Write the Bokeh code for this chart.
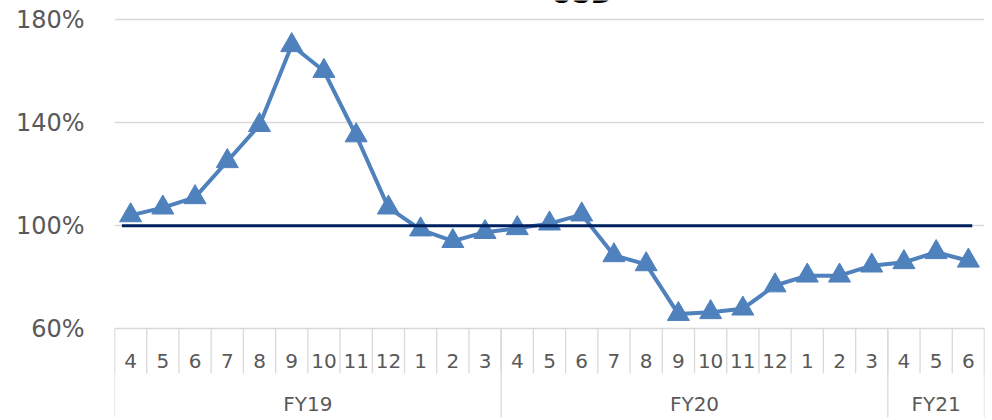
from bokeh.plotting import figure
from bokeh.models import FactorRange, Range1d, FixedTicker, PrintfTickFormatter, ColumnDataSource
from bokeh.core.properties import value
from bokeh.embed import file_html
from bokeh.resources import INLINE

# ---------------- data ----------------
title_text = "USD"
fiscal_years = ["FY19", "FY20", "FY21"]
months_fy19 = ["4", "5", "6", "7", "8", "9", "10", "11", "12", "1", "2", "3"]
months_fy20 = ["4", "5", "6", "7", "8", "9", "10", "11", "12", "1", "2", "3"]
months_fy21 = ["4", "5", "6"]
usd_fy19 = [104, 107, 111, 125, 139, 170, 160, 135, 107, 98.5, 94, 97.5]
usd_fy20 = [99, 100.8, 104.3, 88.5, 85, 65.7, 66.4, 67.8, 76.8, 80.6, 80.6, 84.5]
usd_fy21 = [85.8, 89.7, 86.4]
reference_level = 100
y_ticks = [60, 100, 140, 180]

# ---------------- build ----------------
groups = [("FY19", months_fy19, usd_fy19), ("FY20", months_fy20, usd_fy20), ("FY21", months_fy21, usd_fy21)]
factors, month_labels, values = [], [], []
for fy, ms, vs in groups:
    for m, v in zip(ms, vs):
        factors.append((fy, m))
        month_labels.append(m)
        values.append(v)

# layout (pixels)
W, H = 992, 420
FRAME_L, FRAME_R_BORDER = 114, 8
PX_TOP_TICK, PX_BOT_TICK = 19.0, 328.3
px_per_unit = (PX_BOT_TICK - PX_TOP_TICK) / (y_ticks[-1] - y_ticks[0])


def y_at(px):
    return y_ticks[0] + (PX_BOT_TICK - px) / px_per_unit


TEXT = "#595959"
GRID = "#D9D9D9"
BLUE = "#4F81BD"
NAVY = "#002060"
FONT = value("DejaVu Sans")

p = figure(
    width=W, height=H,
    x_range=FactorRange(*factors, factor_padding=0, subgroup_padding=0, group_padding=0, range_padding=0),
    y_range=Range1d(y_at(H), y_at(0)),
    output_backend="svg", toolbar_location=None, x_axis_location=None,
    min_border_left=FRAME_L, min_border_right=FRAME_R_BORDER, min_border_top=0, min_border_bottom=0,
)
p.outline_line_color = None
p.background_fill_color = "white"
p.border_fill_color = "white"
p.xgrid.visible = False

ax = p.yaxis[0]
ax.ticker = FixedTicker(ticks=y_ticks)
ax.formatter = PrintfTickFormatter(format="%d%%")
ax.axis_line_color = None
ax.major_tick_line_color = None
ax.minor_tick_line_color = None
ax.major_label_text_font = "DejaVu Sans"
ax.major_label_text_font_size = "24px"
ax.major_label_text_color = TEXT
ax.major_label_standoff = 24

p.ygrid.ticker = FixedTicker(ticks=y_ticks)
p.ygrid.grid_line_color = GRID
p.ygrid.grid_line_width = 1.3

# category axis drawn by hand: separators
month_edges = [(fy, m, -0.5) for fy, m in factors] + [(factors[-1][0], factors[-1][1], 0.5)]
group_edges = []
for fy, ms, _ in groups:
    group_edges.append((fy, ms[0], -0.5))
group_edges.append((factors[-1][0], factors[-1][1], 0.5))

p.segment(x0=month_edges, x1=month_edges, y0=[y_ticks[0]] * len(month_edges),
          y1=[y_at(372.7)] * len(month_edges), line_color=GRID, line_width=1.3)
p.segment(x0=group_edges, x1=group_edges, y0=[y_ticks[0]] * len(group_edges),
          y1=[y_at(416.7)] * len(group_edges), line_color=GRID, line_width=1.3)

p.text(x=factors, y=[y_at(360)] * len(factors), text=month_labels, text_align="center",
       text_baseline="middle", text_font=FONT, text_font_size="20px", text_color=TEXT)
p.text(x=fiscal_years, y=[y_at(403)] * len(fiscal_years), text=fiscal_years, text_align="center",
       text_baseline="middle", text_font=FONT, text_font_size="20px", text_color=TEXT)

# series
src = ColumnDataSource(dict(x=factors, y=values))
p.line("x", "y", source=src, line_color=BLUE, line_width=4, line_join="round")
p.scatter("x", "y", source=src, marker="triangle", size=22, fill_color=BLUE, line_color=BLUE)

# reference line at 100%
p.line(x=[(factors[0][0], factors[0][1], -0.27), (factors[-1][0], factors[-1][1], 0.12)],
       y=[reference_level, reference_level], line_color=NAVY, line_width=3)

# title (mostly cut off at the top, as in the source)
p.text(x=[("FY20", "6")], y=[y_at(-6.5)], text=[title_text], text_align="center",
       text_baseline="alphabetic", text_font=FONT, text_font_size="26px",
       text_font_style="bold", text_color="black")

open("out.html", "w").write(file_html(p, INLINE))
